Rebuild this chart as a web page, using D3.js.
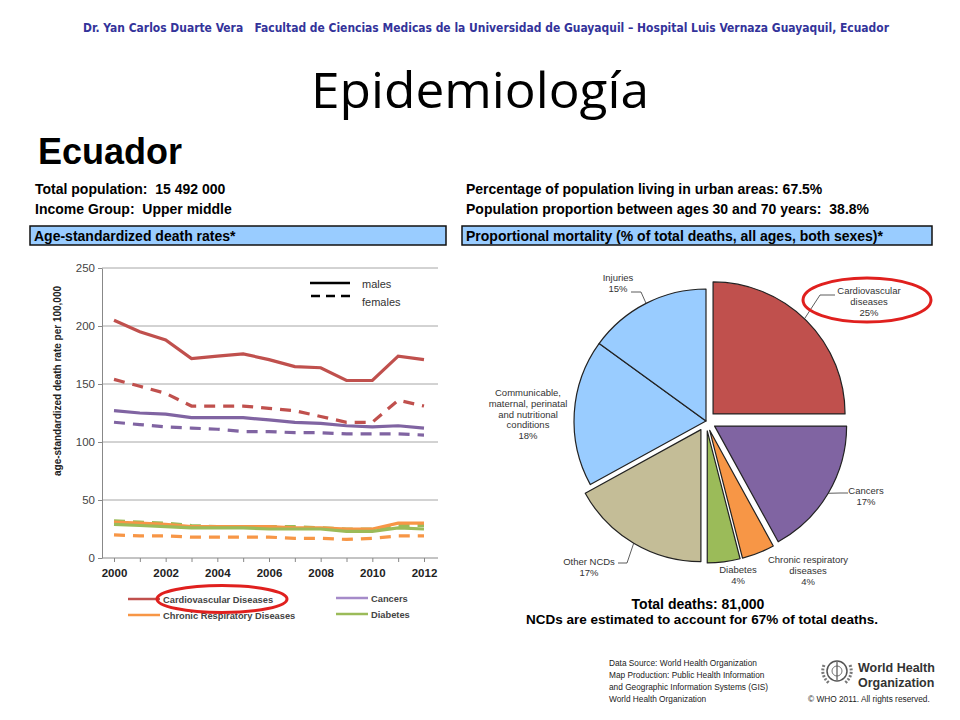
<!DOCTYPE html>
<html>
<head>
<meta charset="utf-8">
<script src="https://cdn.jsdelivr.net/npm/d3@7"></script>
<style>
  body { margin: 0; background: #fff; }
  svg text { font-family: "Liberation Sans", Arial, sans-serif; }
</style>
</head>
<body>
<svg id="page" width="960" height="720"></svg>
<script>
// line chart data (age-standardized death rate per 100,000)
var years = [2000, 2001, 2002, 2003, 2004, 2005, 2006, 2007, 2008, 2009, 2010, 2011, 2012];
var cvdMales = [205, 195, 188, 172, 174, 176, 171, 165, 164, 153, 153, 174, 171];
var cvdFemales = [154, 148, 142, 131, 131, 131, 129, 127, 122, 117, 117, 136, 131];
var cancerMales = [127, 125, 124, 121, 121, 121, 119, 117, 116, 114, 113, 114, 112];
var cancerFemales = [117, 115, 113, 112, 111, 109, 109, 108, 108, 107, 107, 107, 106];
var crdMales = [31, 30, 29, 27, 27, 27, 27, 26, 26, 25, 25, 30, 30];
var crdFemales = [20, 19, 19, 18, 18, 18, 18, 17, 17, 16, 17, 19, 19];
var diabMales = [29, 28, 27, 26, 26, 26, 25, 25, 25, 23, 23, 26, 25];
var diabFemales = [32, 31, 30, 28, 27, 27, 27, 27, 26, 25, 25, 28, 28];
var yTicks = [0, 50, 100, 150, 200, 250];
var xTicks = [2000, 2002, 2004, 2006, 2008, 2010, 2012];

// pie data (proportional mortality, %)
var causes = ["Cardiovascular diseases", "Cancers", "Chronic respiratory diseases", "Diabetes",
  "Other NCDs", "Communicable, maternal, perinatal and nutritional conditions", "Injuries"];
var shares = [25, 17, 4, 4, 17, 18, 15];
var exploded = [true, true, true, true, true, false, false];
var pieColors = ["#c0504d", "#8064a2", "#f79646", "#9bbb59", "#c4bd97", "#99ccff", "#99ccff"];

var svg = d3.select("#page");

// header
var head = svg.append("text")
    .attr("x", 486).attr("y", 32)
    .attr("text-anchor", "middle")
    .attr("textLength", 806).attr("lengthAdjust", "spacingAndGlyphs")
    .style("font-family", "'DejaVu Sans Condensed', 'Open Sans', sans-serif")
    .style("font-size", "13px").style("font-weight", "bold")
    .style("white-space", "pre")
    .attr("fill", "#33339a")
    .text("Dr. Yan Carlos Duarte Vera   Facultad de Ciencias Medicas de la Universidad de Guayaquil \u2013 Hospital Luis Vernaza Guayaquil, Ecuador");

svg.append("text")
    .attr("x", 480).attr("y", 108)
    .attr("text-anchor", "middle")
    .attr("textLength", 338).attr("lengthAdjust", "spacingAndGlyphs")
    .style("font-family", "'Open Sans', sans-serif")
    .style("font-size", "50px").style("font-weight", "400")
    .attr("fill", "#000")
    .text("Epidemiología");

svg.append("text")
    .attr("x", 38).attr("y", 164)
    .style("font-size", "36px").style("font-weight", "bold")
    .text("Ecuador");

var infoLeft = ["Total population:  15 492 000", "Income Group:  Upper middle"];
var infoRight = ["Percentage of population living in urban areas: 67.5%",
  "Population proportion between ages 30 and 70 years:  38.8%"];
infoLeft.forEach(function (t, i) {
    svg.append("text").attr("x", 35).attr("y", 194 + i * 20).style("white-space", "pre")
        .style("font-size", "14px").style("font-weight", "bold").text(t);
});
infoRight.forEach(function (t, i) {
    svg.append("text").attr("x", 466).attr("y", 194 + i * 20).style("white-space", "pre")
        .style("font-size", "14px").style("font-weight", "bold").text(t);
});

// blue section bars
function sectionBar(x, w, label) {
    svg.append("rect").attr("x", x).attr("y", 226).attr("width", w).attr("height", 19)
        .attr("fill", "#99ccff").attr("stroke", "#111").attr("stroke-width", 1.5);
    svg.append("text").attr("x", x + 4).attr("y", 240.5)
        .style("font-size", "14px").style("font-weight", "bold").text(label);
}
sectionBar(30, 416, "Age-standardized death rates*");
sectionBar(462, 470, "Proportional mortality (% of total deaths, all ages, both sexes)*");

// ---- line chart ----
var x = d3.scaleLinear().domain([2000, 2012]).range([114, 424]);
var y = d3.scaleLinear().domain([0, 250]).range([558, 268]);

var g = svg.append("g");

g.selectAll(".grid").data(yTicks.slice(1)).enter().append("line")
    .attr("x1", 102).attr("x2", 438)
    .attr("y1", function (d) { return y(d); })
    .attr("y2", function (d) { return y(d); })
    .attr("stroke", "#a6a6a6").attr("stroke-width", 1);

var yAxis = g.append("g").attr("transform", "translate(102,0)")
    .call(d3.axisLeft(y).tickValues(yTicks).tickSize(4).tickSizeOuter(0));
yAxis.select(".domain").attr("stroke", "#888");
yAxis.selectAll(".tick line").attr("stroke", "#888");
yAxis.selectAll("text").attr("fill", "#444").style("font-size", "11.5px")
    .style("font-family", "'Liberation Sans', Arial, sans-serif");

var xAxis = g.append("g").attr("transform", "translate(0,558)")
    .call(d3.axisBottom(x).tickValues(years).tickSize(4).tickFormat(function (d) {
        return xTicks.indexOf(d) >= 0 ? d : "";
    }));
xAxis.select(".domain").attr("d", "M102,0H438").attr("stroke", "#888");
xAxis.selectAll(".tick line").attr("stroke", "#888");
xAxis.selectAll("text").attr("fill", "#222").attr("dy", "1.05em").style("font-size", "11.5px")
    .style("font-weight", "bold")
    .style("font-family", "'Liberation Sans', Arial, sans-serif");

svg.append("text")
    .attr("transform", "translate(61,381) rotate(-90)")
    .attr("text-anchor", "middle")
    .style("font-size", "10px").style("font-weight", "bold").attr("fill", "#222")
    .text("age-standardized death rate per 100,000");

var series = [
    { v: cvdFemales, c: "#c0504d", dash: true },
    { v: cancerFemales, c: "#8064a2", dash: true },
    { v: crdFemales, c: "#f79646", dash: true },
    { v: diabFemales, c: "#9bbb59", dash: true },
    { v: cvdMales, c: "#c0504d", dash: false },
    { v: cancerMales, c: "#8064a2", dash: false },
    { v: crdMales, c: "#f79646", dash: false },
    { v: diabMales, c: "#9bbb59", dash: false }
];

var line = d3.line()
    .x(function (d, i) { return x(years[i]); })
    .y(function (d) { return y(d); });

g.selectAll(".series").data(series).enter().append("path")
    .attr("d", function (d) { return line(d.v); })
    .attr("fill", "none")
    .attr("stroke", function (d) { return d.c; })
    .attr("stroke-width", 3.2)
    .attr("stroke-dasharray", function (d) { return d.dash ? "11,8" : null; });

// males / females key
svg.append("line").attr("x1", 310).attr("x2", 350).attr("y1", 283).attr("y2", 283)
    .attr("stroke", "#000").attr("stroke-width", 2.5);
svg.append("line").attr("x1", 311).attr("x2", 350).attr("y1", 296).attr("y2", 296)
    .attr("stroke", "#000").attr("stroke-width", 2.5).attr("stroke-dasharray", "9,6");
svg.append("text").attr("x", 362).attr("y", 288).style("font-size", "11px").attr("fill", "#333").text("males");
svg.append("text").attr("x", 362).attr("y", 306).style("font-size", "11px").attr("fill", "#333").text("females");

// bottom legend
var legendItems = [
    { name: "Cardiovascular Diseases", c: "#c0504d", lx: 128, ly: 599 },
    { name: "Cancers", c: "#a58bc9", lx: 336, ly: 598 },
    { name: "Chronic Respiratory Diseases", c: "#f79646", lx: 128, ly: 615 },
    { name: "Diabetes", c: "#9bbb59", lx: 336, ly: 614 }
];
var leg = svg.selectAll(".leg").data(legendItems).enter().append("g");
leg.append("line")
    .attr("x1", function (d) { return d.lx; })
    .attr("x2", function (d) { return d.lx + 32; })
    .attr("y1", function (d) { return d.ly; })
    .attr("y2", function (d) { return d.ly; })
    .attr("stroke", function (d) { return d.c; }).attr("stroke-width", 2.5);
leg.append("text")
    .attr("x", function (d) { return d.lx + 35; })
    .attr("y", function (d) { return d.ly + 3.5; })
    .style("font-size", "9.3px").style("font-weight", "bold").attr("fill", "#444")
    .text(function (d) { return d.name; });

svg.append("ellipse").attr("cx", 222).attr("cy", 599).attr("rx", 65).attr("ry", 13.5)
    .attr("fill", "none").attr("stroke", "#e0201e").attr("stroke-width", 3);

// ---- pie chart ----
var cx = 706, cy = 421, R = 132, explode = 10;
var pie = d3.pie().sort(null).value(function (d) { return d; });
var arcs = pie(shares);
var arc = d3.arc().innerRadius(0).outerRadius(R);

function shift(d, i) {
    if (!exploded[i]) return [0, 0];
    var a = (d.startAngle + d.endAngle) / 2;
    return [Math.sin(a) * explode, -Math.cos(a) * explode];
}

var pg = svg.append("g").attr("transform", "translate(" + cx + "," + cy + ")");
pg.selectAll(".slice").data(arcs).enter().append("path")
    .attr("transform", function (d, i) { var s = shift(d, i); return "translate(" + s[0] + "," + s[1] + ")"; })
    .attr("d", arc)
    .attr("fill", function (d, i) { return pieColors[i]; })
    .attr("stroke", "#222").attr("stroke-width", 1.2).attr("stroke-linejoin", "round");

// pie labels (layout only: text anchors and leader elbows)
var pieLabels = [
    { lines: ["Cardiovascular", "diseases", "25%"], x: 869, y: 294, leader: [[820, 295], [835, 295]] },
    { lines: ["Cancers", "17%"], x: 866, y: 494, leader: [[840, 493], [848, 493]] },
    { lines: ["Chronic respiratory", "diseases", "4%"], x: 808, y: 563, leader: null },
    { lines: ["Diabetes", "4%"], x: 738, y: 573, leader: null },
    { lines: ["Other NCDs", "17%"], x: 589, y: 565, leader: [[627, 563], [618, 563]] },
    { lines: ["Communicable,", "maternal, perinatal", "and nutritional", "conditions", "18%"], x: 528, y: 396, leader: null },
    { lines: ["Injuries", "15%"], x: 618, y: 281, leader: [[641, 292], [631, 292]] }
];

arcs.forEach(function (d, i) {
    var lab = pieLabels[i];
    var t = svg.append("text").attr("text-anchor", "middle")
        .style("font-size", "9.5px").attr("fill", "#333");
    lab.lines.forEach(function (s, k) {
        t.append("tspan").attr("x", lab.x).attr("y", lab.y + k * 10.8).text(s);
    });
    if (lab.leader) {
        var a = (d.startAngle + d.endAngle) / 2 - (i === 0 ? 0.02 : 0);
        var s = shift(d, i);
        var start = [cx + s[0] + Math.sin(a) * R, cy + s[1] - Math.cos(a) * R];
        svg.append("path")
            .attr("d", d3.line()([start].concat(lab.leader)))
            .attr("fill", "none").attr("stroke", "#333").attr("stroke-width", 0.8);
    }
});

svg.append("ellipse").attr("cx", 867).attr("cy", 300).attr("rx", 64).attr("ry", 22)
    .attr("fill", "none").attr("stroke", "#e0201e").attr("stroke-width", 3);

svg.append("text").attr("x", 698).attr("y", 609).attr("text-anchor", "middle")
    .style("font-size", "14px").style("font-weight", "bold").text("Total deaths: 81,000");
svg.append("text").attr("x", 702).attr("y", 624).attr("text-anchor", "middle")
    .style("font-size", "13.5px").style("font-weight", "bold")
    .text("NCDs are estimated to account for 67% of total deaths.");

// ---- footer ----
var sourceLines = ["Data Source: World Health Organization", "Map Production: Public Health Information",
  "and Geographic Information Systems (GIS)", "World Health Organization"];
sourceLines.forEach(function (s, i) {
    svg.append("text").attr("x", 609).attr("y", 666 + i * 12)
        .style("font-size", "8.3px").attr("fill", "#222").text(s);
});

var logo = svg.append("g").attr("transform", "translate(837,671)");
logo.append("circle").attr("r", 10).attr("fill", "none").attr("stroke", "#555").attr("stroke-width", 1.5);
logo.append("circle").attr("r", 5).attr("fill", "none").attr("stroke", "#777").attr("stroke-width", 1);
logo.append("line").attr("x1", 0).attr("x2", 0).attr("y1", -9).attr("y2", 9).attr("stroke", "#555").attr("stroke-width", 1.2);
logo.append("path").attr("d", "M-13,-6 Q-17,4 -8,12 M13,-6 Q17,4 8,12")
    .attr("fill", "none").attr("stroke", "#777").attr("stroke-width", 3).attr("stroke-dasharray", "2,1.5");

svg.append("text").attr("x", 858).attr("y", 672).style("font-size", "12.5px").style("font-weight", "bold")
    .attr("fill", "#333").text("World Health");
svg.append("text").attr("x", 858).attr("y", 687).style("font-size", "12.5px").style("font-weight", "bold")
    .attr("fill", "#333").text("Organization");
svg.append("text").attr("x", 808).attr("y", 702).style("font-size", "8.3px").attr("fill", "#222")
    .text("\u00a9 WHO 2011. All rights reserved.");
</script>
</body>
</html>
